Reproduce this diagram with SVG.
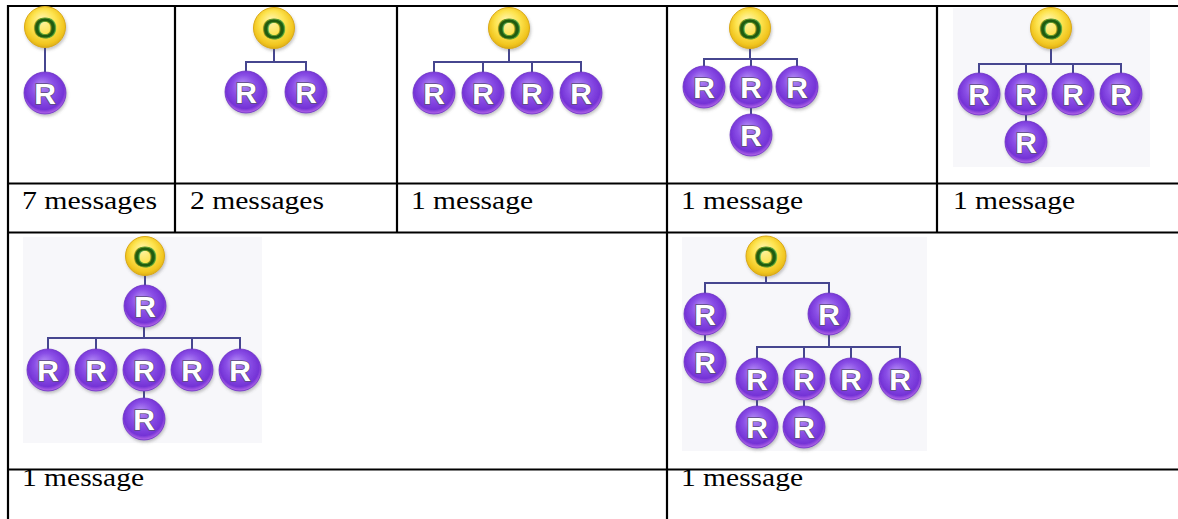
<svg xmlns="http://www.w3.org/2000/svg" width="1178" height="519" viewBox="0 0 1178 519">
<style>
.grid{stroke:#000;stroke-width:2.2;fill:none}
.bg{fill:#f7f7fa}
.con{stroke:#46468f;stroke-width:2;fill:none}
.oc{fill:url(#gy);stroke:#d9a916;stroke-width:1;filter:url(#sh)}
.rc{fill:url(#gp);stroke:#6a2dc4;stroke-width:0.8;filter:url(#sh)}
.ot{font-family:"Liberation Sans",Arial,sans-serif;font-weight:bold;font-size:30px;fill:#1f5c10;stroke:#5f9a2a;stroke-width:0.9;text-anchor:middle}
.rt{font-family:"Liberation Sans",Arial,sans-serif;font-weight:bold;font-size:30px;fill:#fff;stroke:#5b4b7a;stroke-width:1.5;paint-order:stroke;text-anchor:middle}
.lbl{font-family:"Liberation Serif","Times New Roman",serif;font-size:25px;fill:#000}
</style>
<defs>
<radialGradient id="gy" cx="50%" cy="45%" r="55%" fx="42%" fy="30%">
<stop offset="0" stop-color="#fff6b0"/>
<stop offset="0.55" stop-color="#fde34e"/>
<stop offset="0.88" stop-color="#f1c51f"/>
<stop offset="1" stop-color="#dcae18"/>
</radialGradient>
<radialGradient id="gp" cx="50%" cy="45%" r="55%" fx="40%" fy="30%">
<stop offset="0" stop-color="#b48cf5"/>
<stop offset="0.5" stop-color="#8a4ee6"/>
<stop offset="0.85" stop-color="#7433d6"/>
<stop offset="1" stop-color="#b86ae8"/>
</radialGradient>
<filter id="sh" x="-30%" y="-30%" width="160%" height="160%">
<feDropShadow dx="1" dy="2" stdDeviation="1.5" flood-color="#555" flood-opacity="0.35"/>
</filter>
</defs>

<g id="backgrounds">
<rect class="bg" x="953" y="8" width="197" height="159"/>
<rect class="bg" x="23" y="237" width="239" height="206"/>
<rect class="bg" x="682" y="237" width="245" height="214"/>
</g>

<g id="table">
<path class="grid" d="M8 6H1178M8 183.5H1178M8 232.5H1178M8 469.5H1178M8 5V519M175 6V232.5M397 6V232.5M667 6V519M937 6V232.5"/>
</g>

<g id="connectors">
<path class="con" d="M45 48V72"/>
<path class="con" d="M274 48V62M246 71V62H306V71"/>
<path class="con" d="M509 48V62M434 72V62H581V72M483 62V72M532 62V72"/>
<path class="con" d="M750 48V59M704 66V59H797V66M751 59V66M751 108V114"/>
<path class="con" d="M1051 48V64M979 73V64H1121V73M1026 64V73M1073 64V73M1026 115V121"/>
<path class="con" d="M145 275V285M144 327V338M48 349V338H240V349M96 338V349M192 338V349M144 391V398"/>
<path class="con" d="M766 276V283M705 293V283H829V293M705 335V341M829 335V347M757 358V347H900V358M804 347V358M851 347V358M757 400V406M804 400V406"/>
</g>

<g id="cell1">
<g id="n1o" transform="translate(45,27)"><circle class="oc" r="20.5"/><text class="ot" y="11">O</text></g>
<g id="n1r1" transform="translate(45,93)"><circle class="rc" r="21"/><text class="rt" y="11">R</text></g>
</g>

<g id="cell2">
<g id="n2o" transform="translate(274,28)"><circle class="oc" r="20.5"/><text class="ot" y="11">O</text></g>
<g id="n2r1" transform="translate(246,92)"><circle class="rc" r="21"/><text class="rt" y="11">R</text></g>
<g id="n2r2" transform="translate(306,92)"><circle class="rc" r="21"/><text class="rt" y="11">R</text></g>
</g>

<g id="cell3">
<g id="n3o" transform="translate(509,28)"><circle class="oc" r="20.5"/><text class="ot" y="11">O</text></g>
<g id="n3r1" transform="translate(434,93)"><circle class="rc" r="21"/><text class="rt" y="11">R</text></g>
<g id="n3r2" transform="translate(483,93)"><circle class="rc" r="21"/><text class="rt" y="11">R</text></g>
<g id="n3r3" transform="translate(532,93)"><circle class="rc" r="21"/><text class="rt" y="11">R</text></g>
<g id="n3r4" transform="translate(581,93)"><circle class="rc" r="21"/><text class="rt" y="11">R</text></g>
</g>

<g id="cell4">
<g id="n4o" transform="translate(750,28)"><circle class="oc" r="20.5"/><text class="ot" y="11">O</text></g>
<g id="n4r1" transform="translate(704,87)"><circle class="rc" r="21"/><text class="rt" y="11">R</text></g>
<g id="n4r2" transform="translate(751,87)"><circle class="rc" r="21"/><text class="rt" y="11">R</text></g>
<g id="n4r3" transform="translate(797,87)"><circle class="rc" r="21"/><text class="rt" y="11">R</text></g>
<g id="n4r4" transform="translate(751,135)"><circle class="rc" r="21"/><text class="rt" y="11">R</text></g>
</g>

<g id="cell5">
<g id="n5o" transform="translate(1051,28)"><circle class="oc" r="20.5"/><text class="ot" y="11">O</text></g>
<g id="n5r1" transform="translate(979,94)"><circle class="rc" r="21"/><text class="rt" y="11">R</text></g>
<g id="n5r2" transform="translate(1026,94)"><circle class="rc" r="21"/><text class="rt" y="11">R</text></g>
<g id="n5r3" transform="translate(1073,94)"><circle class="rc" r="21"/><text class="rt" y="11">R</text></g>
<g id="n5r4" transform="translate(1121,94)"><circle class="rc" r="21"/><text class="rt" y="11">R</text></g>
<g id="n5r5" transform="translate(1026,142)"><circle class="rc" r="21"/><text class="rt" y="11">R</text></g>
</g>

<g id="cell6">
<g id="n6o" transform="translate(145,256)"><circle class="oc" r="19.5"/><text class="ot" y="11">O</text></g>
<g id="n6r0" transform="translate(145,306)"><circle class="rc" r="21"/><text class="rt" y="11">R</text></g>
<g id="n6r1" transform="translate(48,370)"><circle class="rc" r="21"/><text class="rt" y="11">R</text></g>
<g id="n6r2" transform="translate(96,370)"><circle class="rc" r="21"/><text class="rt" y="11">R</text></g>
<g id="n6r3" transform="translate(144,370)"><circle class="rc" r="21"/><text class="rt" y="11">R</text></g>
<g id="n6r4" transform="translate(192,370)"><circle class="rc" r="21"/><text class="rt" y="11">R</text></g>
<g id="n6r5" transform="translate(240,370)"><circle class="rc" r="21"/><text class="rt" y="11">R</text></g>
<g id="n6r6" transform="translate(144,419)"><circle class="rc" r="21"/><text class="rt" y="11">R</text></g>
</g>

<g id="cell7">
<g id="n7o" transform="translate(766,256)"><circle class="oc" r="20"/><text class="ot" y="11">O</text></g>
<g id="n7ra" transform="translate(705,314)"><circle class="rc" r="21"/><text class="rt" y="11">R</text></g>
<g id="n7rb" transform="translate(705,362)"><circle class="rc" r="21"/><text class="rt" y="11">R</text></g>
<g id="n7rc" transform="translate(829,314)"><circle class="rc" r="21"/><text class="rt" y="11">R</text></g>
<g id="n7r1" transform="translate(757,379)"><circle class="rc" r="21"/><text class="rt" y="11">R</text></g>
<g id="n7r2" transform="translate(804,379)"><circle class="rc" r="21"/><text class="rt" y="11">R</text></g>
<g id="n7r3" transform="translate(851,379)"><circle class="rc" r="21"/><text class="rt" y="11">R</text></g>
<g id="n7r4" transform="translate(900,379)"><circle class="rc" r="21"/><text class="rt" y="11">R</text></g>
<g id="n7r5" transform="translate(757,427)"><circle class="rc" r="21"/><text class="rt" y="11">R</text></g>
<g id="n7r6" transform="translate(804,427)"><circle class="rc" r="21"/><text class="rt" y="11">R</text></g>
</g>

<g id="labels">
<text class="lbl" x="22" y="209" textLength="135" lengthAdjust="spacingAndGlyphs">7 messages</text>
<text class="lbl" x="190" y="209" textLength="134" lengthAdjust="spacingAndGlyphs">2 messages</text>
<text class="lbl" x="411" y="209" textLength="122" lengthAdjust="spacingAndGlyphs">1 message</text>
<text class="lbl" x="681" y="209" textLength="122" lengthAdjust="spacingAndGlyphs">1 message</text>
<text class="lbl" x="953" y="209" textLength="122" lengthAdjust="spacingAndGlyphs">1 message</text>
<text class="lbl" x="22" y="486" textLength="122" lengthAdjust="spacingAndGlyphs">1 message</text>
<text class="lbl" x="681" y="486" textLength="122" lengthAdjust="spacingAndGlyphs">1 message</text>
</g>
</svg>
